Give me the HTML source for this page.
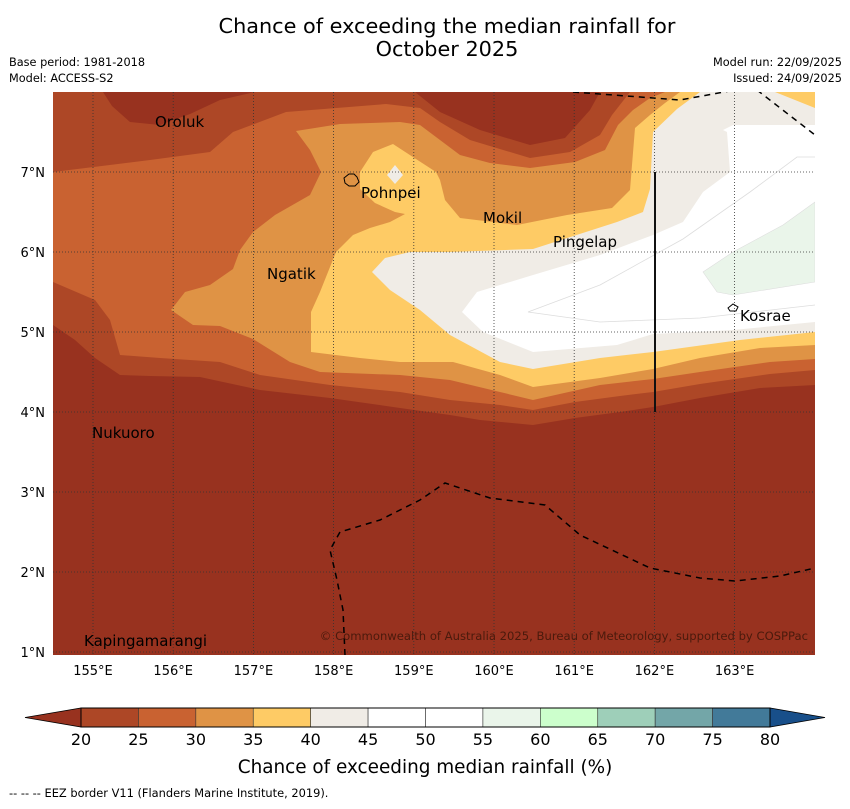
<!DOCTYPE html>
<html><head><meta charset="utf-8"><style>
body{margin:0;background:#fff;}
svg text{font-family:"DejaVu Sans","Liberation Sans",sans-serif;}
</style></head><body>
<svg id="s" width="850" height="804" viewBox="0 0 850 804" xmlns="http://www.w3.org/2000/svg">
<text x="447" y="33" font-size="20.8" text-anchor="middle">Chance of exceeding the median rainfall for</text>
<text x="447" y="56" font-size="20.8" text-anchor="middle">October 2025</text>
<text x="9" y="66" font-size="11.3">Base period: 1981-2018</text>
<text x="9" y="82" font-size="11.3">Model: ACCESS-S2</text>
<text x="842" y="66" font-size="11.3" text-anchor="end">Model run: 22/09/2025</text>
<text x="842" y="82" font-size="11.3" text-anchor="end">Issued: 24/09/2025</text>
<defs><clipPath id="mc"><rect x="53" y="92" width="762" height="563"/></clipPath></defs>
<g clip-path="url(#mc)">
<rect x="53" y="92" width="762" height="563" fill="#98321f"/>
<polygon fill="#ad4726" points="53,92 103,92 112,106 130,122 160,125 190,114 220,100 255,92 415,92 440,112 480,130 530,145 565,138 590,110 600,92 815,92 815,385 760,388 700,398 653,407 620,412 575,418 533,425 480,420 450,415 400,408 330,398 260,390 200,377 150,376 120,375 95,358 75,340 53,325"/>
<polygon fill="#c96231" points="53,172 150,160 210,152 233,132 286,112 386,104 420,108 440,122 470,140 530,158 570,152 600,135 612,115 630,92 815,92 815,370 770,374 700,384 653,392 620,396 575,402 533,410 500,405 450,400 400,392 330,385 260,375 220,362 160,358 120,355 110,320 95,300 53,282"/>
<polygon fill="#df9345" points="296,131 340,124 400,122 420,125 440,140 460,155 490,163 530,168 575,162 605,150 618,125 633,110 650,98 665,92 815,92 815,359 770,362 700,372 653,379 600,385 533,400 500,392 450,380 400,375 320,372 290,362 253,339 220,326 193,325 171,310 185,292 210,285 233,269 240,250 253,232 275,215 310,195 321,172 310,150"/>
<polygon fill="#fecb65" points="815,92 680,92 665,103 650,115 635,128 632,165 630,190 612,208 567,215 517,225 460,218 445,200 440,180 436,172 416,159 393,144 373,152 360,172 360,189 375,203 395,212 405,214 390,222 370,228 353,235 336,252 320,292 311,312 311,352 360,358 400,362 453,362 500,375 533,387 600,378 653,369 700,358 760,348 815,345"/>
<polygon fill="#f0ece6" points="700,92 775,92 815,108 815,332 740,340 653,352 600,358 533,369 500,362 450,335 420,310 390,290 372,272 385,258 410,252 450,252 533,249 617,222 643,212 650,189 653,132 677,109"/>
<polygon fill="#ffffff" points="462,312 477,292 533,275 600,255 653,235 683,222 703,192 730,172 727,132 723,130 733,125 815,125 815,322 733,330 653,334 617,345 533,352 483,332"/>
<polyline fill="none" stroke="#ddd" stroke-width="0.8" points="815,157 797,157 750,192 683,239 600,285 528,312 600,322 700,318 815,305"/>
<polygon fill="#eaf5ea" stroke="#ddd" stroke-width="0.6" points="703,272 733,252 783,225 815,202 815,282 733,295 717,292 710,282"/>
<polygon fill="#f0ece6" points="395,165 403,175 395,184 387,175"/>
<g stroke="#333" stroke-width="0.8" stroke-dasharray="1,2" id="grid"></g>
<g fill="none" stroke="#000" stroke-width="1.5" stroke-dasharray="6,5">
<polyline points="573,92 680,100 735,90"/>
<polyline points="757,90 815,135"/>
<polyline points="345,655 343,610 337,580 330,550 340,532 380,520 420,500 445,483 490,498 545,505 580,535 650,568 700,578 735,581 780,576 815,568"/>
</g>
<line x1="655" y1="172" x2="655" y2="412" stroke="#111" stroke-width="2"/>
<path d="M344,178 l5,-4 5,0 3,3 2,5 -4,4 -6,0 -4,-3 z" fill="none" stroke="#000" stroke-width="1"/>
<path d="M728,308 l5,-4 5,3 -2,4 -6,0 z" fill="none" stroke="#000" stroke-width="1"/>
<g font-size="15" fill="#000">
<text x="155" y="127">Oroluk</text>
<text x="361" y="198">Pohnpei</text>
<text x="483" y="223">Mokil</text>
<text x="553" y="247">Pingelap</text>
<text x="267" y="279">Ngatik</text>
<text x="740" y="321">Kosrae</text>
<text x="92" y="438">Nukuoro</text>
<text x="84" y="646">Kapingamarangi</text>
</g>
<text x="808" y="640" font-size="11.6" fill="#4a1a0c" text-anchor="end">© Commonwealth of Australia 2025, Bureau of Meteorology, supported by COSPPac</text>
</g>
<g id="axes"></g>
<g id="cbar"></g>
<text x="425" y="773" font-size="18.4" text-anchor="middle">Chance of exceeding median rainfall (%)</text>
<text x="9" y="797" font-size="11.4">--  --  -- EEZ border V11 (Flanders Marine Institute, 2019).</text>
</svg>
<script>
const NS="http://www.w3.org/2000/svg";
const lonTicks=[155,156,157,158,159,160,161,162,163];
const latTicks=[7,6,5,4,3,2,1];
const cbarLevels=[20,25,30,35,40,45,50,55,60,65,70,75,80];
const cbarColors=["#ad4726","#c96231","#df9345","#fecb65","#f0ece6","#ffffff","#ffffff","#eaf5ea","#ccffcc","#9ecfb9","#73a6a8","#427a99"];
const lowColor="#98321f", highColor="#184f8a";
const xLon=l=>93+(l-155)*80.2;
const yLat=l=>172+(7-l)*80;
function mk(t,a,p){const e=document.createElementNS(NS,t);for(const k in a)e.setAttribute(k,a[k]);p.appendChild(e);return e;}
const grid=document.getElementById('grid'), axes=document.getElementById('axes'), cb=document.getElementById('cbar');
lonTicks.forEach(l=>{const x=xLon(l);
 const g=mk('line',{x1:x,y1:92,x2:x,y2:655},grid);
 
 
 const t=mk('text',{x:x,y:675,'font-size':13,'text-anchor':'middle'},axes);t.textContent=l+'°E';
 
 });
latTicks.forEach(l=>{const y=yLat(l);
 const g=mk('line',{x1:53,y1:y,x2:815,y2:y},grid);
 
 
 const t=mk('text',{x:45,y:y+5,'font-size':13,'text-anchor':'end'},axes);t.textContent=l+'°N';
 
 });
const cx0=81,cx1=770,cy=708,ch=19,n=cbarColors.length,w=(cx1-cx0)/n;
const lo=mk('polygon',{points:`${cx0},${cy} ${cx0},${cy+ch} 25,${cy+ch/2}`,fill:lowColor,stroke:'#000','stroke-width':0.8},cb);


const hi=mk('polygon',{points:`${cx1},${cy} ${cx1},${cy+ch} 825,${cy+ch/2}`,fill:highColor,stroke:'#000','stroke-width':0.8},cb);


cbarColors.forEach((c,i)=>{const r=mk('rect',{x:cx0+i*w,y:cy,width:w,height:ch,fill:c,stroke:'#333','stroke-width':0.6},cb);
 
 });
cbarLevels.forEach((v,i)=>{const t=mk('text',{x:cx0+i*w,y:745,'font-size':16,'text-anchor':'middle'},cb);t.textContent=v;
 
 });
mk('rect',{x:cx0,y:cy,width:cx1-cx0,height:ch,fill:'none',stroke:'#000','stroke-width':1},cb);
</script>
</body></html>
